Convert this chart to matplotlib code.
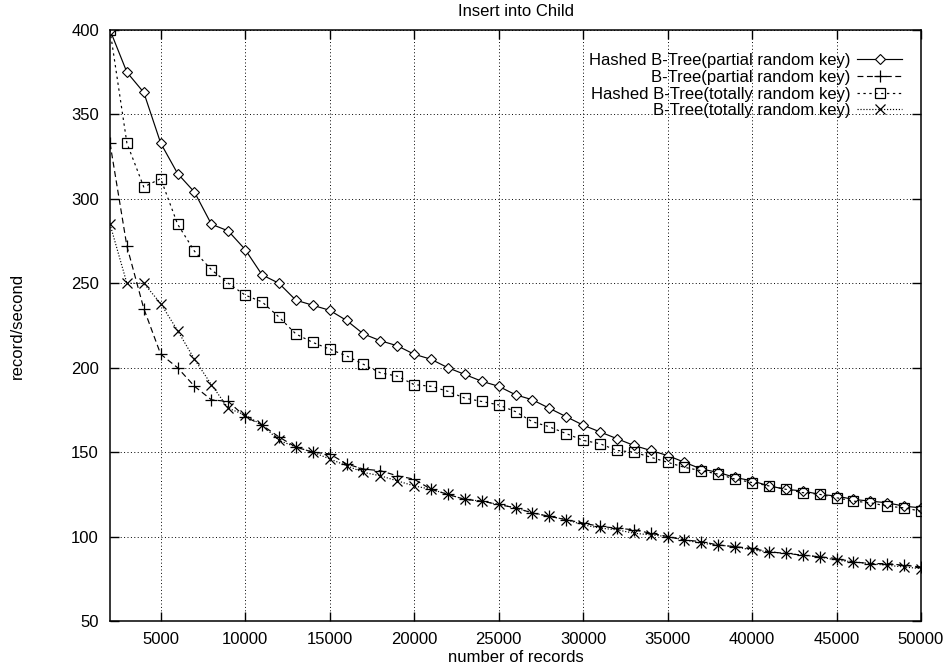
import numpy as np
import matplotlib
matplotlib.use("Agg")
import matplotlib.pyplot as plt

# ── data (records inserted vs. rate) ──
records = list(range(2000, 50001, 1000))

hashed_partial = [400, 375, 363, 333, 315, 304, 285, 281, 270, 255,
                  250, 240, 237, 234, 228, 220, 216, 213, 208, 205,
                  200, 196, 192, 189, 184, 181, 176, 171, 166, 162,
                  158, 154, 151, 148, 144, 140, 138, 135, 133, 130,
                  128, 127, 125, 124, 122, 121, 120, 118, 117]

btree_partial = [333, 272, 235, 208, 200, 189, 181, 180, 171, 166,
                 159, 153, 150, 149, 143, 140, 139, 136, 134, 128,
                 125, 122, 121, 119, 117, 114, 112, 110, 108, 106,
                 105, 104, 102, 100, 98, 97, 95, 94, 93, 91,
                 90, 89, 88, 87, 85, 84, 84, 83, 82]

hashed_total = [400, 333, 307, 312, 285, 269, 258, 250, 243, 239,
                230, 220, 215, 211, 207, 202, 197, 195, 190, 189,
                186, 182, 180, 178, 174, 168, 165, 161, 157, 155,
                151, 150, 147, 144, 141, 139, 137, 134, 132, 130,
                128, 126, 125, 123, 121, 120, 118, 117, 115]

btree_total = [285, 250, 250, 238, 222, 205, 190, 176, 172, 166,
               157, 153, 150, 146, 142, 138, 136, 133, 130, 128,
               125, 122, 121, 119, 117, 114, 112, 110, 107, 105,
               104, 102, 101, 100, 98, 96, 95, 94, 92, 91,
               90, 89, 88, 86, 85, 84, 83, 82, 81]

labels = ["Hashed B-Tree(partial random key)",
          "B-Tree(partial random key)",
          "Hashed B-Tree(totally random key)",
          "B-Tree(totally random key)"]

xticks = list(range(5000, 50001, 5000))
yticks = list(range(50, 401, 50))

FS = 12
plt.rcParams['font.family'] = ['Liberation Sans', 'DejaVu Sans']
plt.rcParams['font.size'] = FS

fig = plt.figure(figsize=(9.51, 6.71), dpi=100)
ax = fig.add_axes([110 / 951, 1 - 621 / 671, 811 / 951, 591 / 671])

lw = 0.85
ax.plot(records, hashed_partial, color='black', lw=lw, linestyle='-',
        marker='D', markersize=5.5, markerfacecolor='white',
        markeredgewidth=0.8, label=labels[0])
ax.plot(records, btree_partial, color='black', lw=lw, linestyle=(0, (5, 3)),
        marker='+', markersize=8, markeredgewidth=0.9, label=labels[1])
ax.plot(records, hashed_total, color='black', lw=lw, linestyle=(0, (2, 3)),
        marker='s', markersize=6.5, markerfacecolor='none',
        markeredgewidth=0.9, label=labels[2])
ax.plot(records, btree_total, color='black', lw=lw, linestyle=(0, (1, 1.5)),
        marker='x', markersize=7, markeredgewidth=0.9, label=labels[3])

ax.set_xlim(2000, 50000)
ax.set_ylim(50, 400)
ax.set_xticks(xticks)
ax.set_yticks(yticks)
ax.tick_params(direction='in', length=6.5, width=1.0, top=True, right=True,
               labelsize=FS)
ax.tick_params(axis='x', labeltop=False, pad=8)
ax.tick_params(axis='y', labelright=False, pad=8)
for s in ax.spines.values():
    s.set_linewidth(1.1)

ax.grid(True, color='black', linestyle=(0, (1, 2.5)), linewidth=0.7)
ax.set_axisbelow(True)

ax.set_title("Insert into Child", fontsize=FS, pad=10)
ax.set_xlabel("number of records", fontsize=FS, labelpad=2)
ax.set_ylabel("record/second", fontsize=FS, labelpad=33)

ax.legend(loc='upper right', frameon=False, markerfirst=False,
          handlelength=2.7, handletextpad=0.4, labelspacing=0.1,
          borderaxespad=0, bbox_to_anchor=(0.985, 0.972), fontsize=FS)

fig.savefig("out.png", dpi=100)
